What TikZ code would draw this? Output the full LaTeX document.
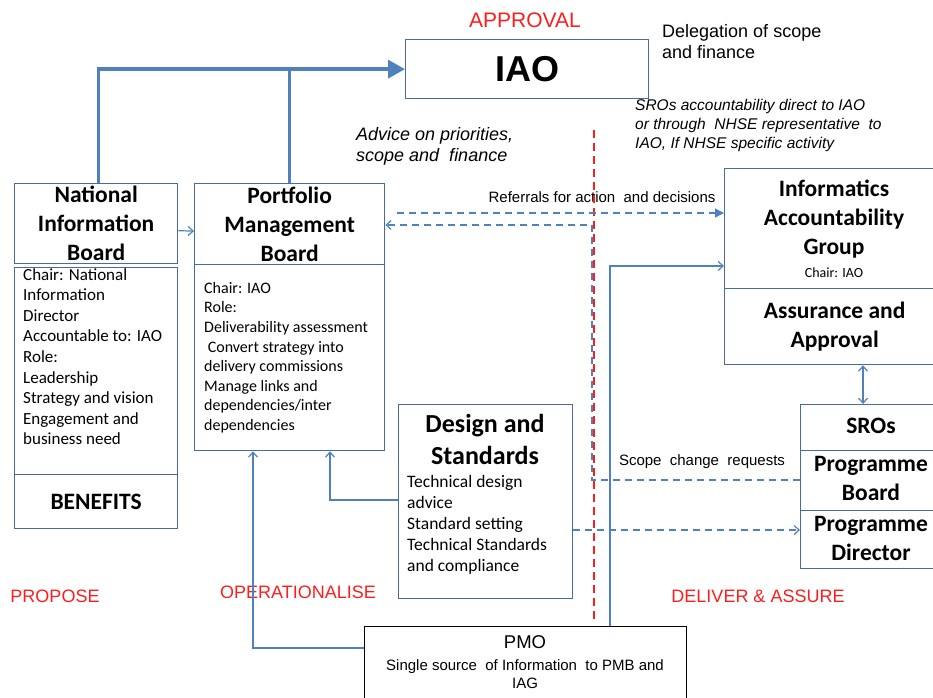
\documentclass[tikz,border=0pt]{standalone}
\usepackage{fontspec}
\setmainfont{Carlito}
\newfontfamily\arial{Liberation Sans}
\usetikzlibrary{arrows.meta}
\definecolor{boxc}{RGB}{72,108,160}
\definecolor{linec}{RGB}{79,129,189}
\definecolor{redc}{RGB}{250,30,30}
\begin{document}
\begin{tikzpicture}[x=1pt,y=-1pt,
  box/.style={draw=boxc, line width=1.3pt, inner sep=0pt, anchor=north west},
  hdr/.style={font=\fontsize{23.5}{29}\selectfont\bfseries, align=center, inner sep=0pt},
  bodytxt/.style={align=left, inner sep=0pt, anchor=north west},
  artxt/.style={inner sep=0pt},
  redlbl/.style={font=\arial\fontsize{18}{21}\selectfont, text=redc, inner sep=0pt},
  thickl/.style={draw=linec, line width=3.4pt},
  thinl/.style={draw=linec, line width=1.2pt},
  dashl/.style={draw=linec, line width=1.2pt, dash pattern=on 7pt off 5pt},
  barb/.style={-{Straight Barb[length=5pt,width=9pt]}},
]
\useasboundingbox (0,0) rectangle (933,697);
\clip (0,0) rectangle (933,697);

% boxes
\node[box, minimum width=243pt, minimum height=59pt] (iao) at (405,39) {};
\node[font=\arial\bfseries\fontsize{36}{40}\selectfont, inner sep=0pt] (iaot) at (iao.center) {IAO};

\node[box, minimum width=163pt, minimum height=80pt] (nibh) at (14,183) {};
\node[hdr] (nibht) at (nibh.center) {National\\Information\\Board};
\node[box, minimum width=163pt, minimum height=207pt] (nibb) at (14,267) {};
\node[box, minimum width=163pt, minimum height=54pt] (nibf) at (14,474) {};
\node[font=\fontsize{23.5}{29}\selectfont\bfseries, inner sep=0pt] (nibft) at (nibf.center) {BENEFITS};
\node[bodytxt, font=\fontsize{17}{20.6}\selectfont] (nibbt) at (23,268) {Chair: National\\Information\\Director\\Accountable to: IAO\\Role:\\Leadership\\Strategy and vision\\Engagement and\\business need};

\node[box, minimum width=190pt, minimum height=81pt] (pmbh) at (194,183) {};
\node[hdr] (pmbht) at (pmbh.center) {Portfolio\\Management\\Board};
\node[box, minimum width=190pt, minimum height=186pt] (pmbb) at (194,264) {};
\node[bodytxt, font=\fontsize{16}{19.6}\selectfont] (pmbbt) at (204,282) {Chair: IAO\\Role:\\Deliverability assessment\\\ Convert strategy into\\delivery commissions\\Manage links and\\dependencies/inter\\dependencies};

\node[box, minimum width=174pt, minimum height=194pt] (ds) at (398,404) {};
\node[font=\fontsize{26}{32}\selectfont\bfseries, align=center, inner sep=0pt] (dsht) at (485,439) {Design and\\Standards};
\node[bodytxt, font=\fontsize{17.5}{21}\selectfont] (dsbt) at (407,475.5) {Technical design\\advice\\Standard setting\\Technical Standards\\and compliance};

\node[box, minimum width=220pt, minimum height=120pt] (iagh) at (724,168) {};
\node[hdr] (iaght) at (834,219) {Informatics\\Accountability\\Group};
\node[font=\fontsize{14}{16}\selectfont, inner sep=0pt] (iagc) at (834,273) {Chair: IAO};
\node[box, minimum width=220pt, minimum height=76pt] (iagb) at (724,288) {};
\node[hdr] (iagbt) at (iagb.center) {Assurance and\\Approval};

\node[box, minimum width=142pt, minimum height=46pt] (sro) at (800,404) {};
\node[hdr] (srot) at (871,426) {SROs};
\node[box, minimum width=142pt, minimum height=60pt] (pb) at (800,450) {};
\node[hdr] (pbt) at (871,478) {Programme\\Board};
\node[box, minimum width=142pt, minimum height=58pt] (pd) at (800,510) {};
\node[hdr] (pdt) at (871,538) {Programme\\Director};

\node[box, draw=black, minimum width=322pt, minimum height=90pt] (pmo) at (364,626) {};
\node[font=\arial\fontsize{18.5}{21}\selectfont, inner sep=0pt] (pmot) at (525,642) {PMO};
\node[font=\arial\fontsize{15}{18}\selectfont, align=center, inner sep=0pt] (pmob) at (525,674) {Single source\ \ of Information\ \ to PMB and\\IAG};

% free labels
\node[font=\arial\fontsize{21}{24}\selectfont, text=redc, inner sep=0pt] (appr) at (525,20) {APPROVAL};
\node[font=\arial\fontsize{18}{21}\selectfont, align=left, anchor=west, inner sep=0pt] (deleg) at (662,41.5) {Delegation of scope\\and finance};
\node[font=\arial\itshape\fontsize{15.5}{19}\selectfont, align=left, anchor=west, inner sep=0pt] (sroacc) at (635,125.5) {SROs accountability direct to IAO\\or through\ \ NHSE representative\ \ to\\IAO, If NHSE specific activity};
\node[font=\arial\itshape\fontsize{18}{21}\selectfont, align=left, anchor=west, inner sep=0pt] (advice) at (356,146.5) {Advice on priorities,\\scope and\ \ finance};
\node[font=\arial\fontsize{15}{18}\selectfont, inner sep=0pt] (refer) at (602,197) {Referrals for action\ \ and decisions};
\node[font=\arial\fontsize{15}{18}\selectfont, inner sep=0pt] (scope) at (702,462) {Scope\ \ change\ \ requests};
\node[redlbl] (propose) at (55,596) {PROPOSE};
\node[redlbl] (oper) at (298,592) {OPERATIONALISE};
\node[redlbl] (deliver) at (758,596) {DELIVER \& ASSURE};

% red divider
\coordinate (rd1) at (594,130);
\coordinate (rd2) at (594,620);
\draw[draw=redc, line width=1.4pt, dash pattern=on 8pt off 5pt] (rd1) -- (rd2);

% thick connectors to IAO
\draw[thickl, -{Triangle[length=17pt,width=18pt]}] ([xshift=2.5pt]nibh.north) |- (iao.west);
\draw[thickl] (pmbh.north) -- (pmbh.north |- iao.west);

% NIB -> PMB
\draw[thinl, barb] ([yshift=-7pt]nibh.east) -- ([yshift=-7pt]pmbh.west);

% referrals dashed
\coordinate (r1) at (397,213);
\draw[dashl, -{Triangle[length=9pt,width=9pt]}] (r1) -- (r1 -| iagh.west);

% scope change requests dashed back to PMB
\coordinate (c1) at (592,480);
\coordinate (c2) at (592,225);
\draw[dashl, barb] (pb.west |- c1) -- (c1) -- (c2) -- (c2 -| pmbh.east);

% D&S -> Programme Director
\coordinate (d1) at (573,530);
\draw[dashl, barb] (d1) -- (d1 -| pd.west);

% PMO -> IAG
\coordinate (p1) at (610,626);
\coordinate (p2) at (610,266);
\draw[thinl, barb] (p1) -- (p2) -- (p2 -| iagh.west);

% D&S -> PMB
\coordinate (s1) at (330,500);
\draw[thinl, barb] (s1 -| ds.west) -- (s1) -- (s1 |- pmbb.south);

% PMO -> PMB
\coordinate (m1) at (253,648);
\draw[thinl, barb] (m1 -| pmo.west) -- (m1) -- (m1 |- pmbb.south);

% IAG <-> SROs
\coordinate (a1) at (863,364);
\draw[thinl, {Straight Barb[length=5pt,width=9pt]}-{Straight Barb[length=5pt,width=9pt]}] (a1 |- iagb.south) -- (a1 |- sro.north);
\end{tikzpicture}
\end{document}
